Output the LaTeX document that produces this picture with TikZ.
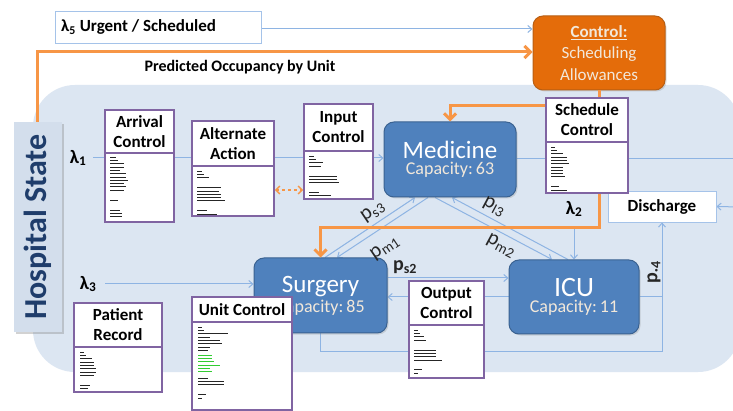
\documentclass[tikz,border=0pt]{standalone}
\usepackage{fontspec}
\setmainfont{Carlito}
\usetikzlibrary{arrows.meta,calc,shadows}
\definecolor{regionc}{HTML}{DCE6F2}
\definecolor{connc}{HTML}{8EB4E3}
\definecolor{orng}{HTML}{F79646}
\definecolor{ctrlfill}{HTML}{E46C0A}
\definecolor{ctrldraw}{HTML}{B85F14}
\definecolor{unitfill}{HTML}{4F81BD}
\definecolor{unitdraw}{HTML}{3A6291}
\definecolor{purp}{HTML}{8064A2}
\definecolor{cream}{HTML}{F2E8DA}
\definecolor{navy}{HTML}{1F3D6B}
\definecolor{hsfill}{HTML}{D3DEEC}
\definecolor{bargreen}{HTML}{33CC33}
\pgfdeclarelayer{bg}
\pgfdeclarelayer{lines}
\pgfsetlayers{bg,lines,main}
\newcommand{\scrib}[4]{%
  \foreach \l [count=\i] in {#4} {\draw[#3, line width=1pt] (#1, #2+\i*3.3) -- ++(\l,0);}}
\begin{document}
\begin{tikzpicture}[x=1pt,y=-1pt,
  conn/.style={draw=connc, line width=1pt},
  arr/.style={-{Straight Barb[length=4pt,width=7pt]}},
  oline/.style={draw=orng, line width=3pt},
  oarr/.style={-{Straight Barb[length=6pt,width=12pt,line width=3pt]}},
  classbox/.style={draw=purp, line width=1.6pt, fill=white, inner sep=0pt},
  ttl/.style={font=\bfseries\fontsize{17}{20}\selectfont, align=center, inner sep=0pt},
  unit/.style={rounded corners=10pt, fill=unitfill, draw=unitdraw, line width=1pt,
    minimum width=132pt, minimum height=75pt, align=center, text=white,
    drop shadow={shadow xshift=1.5pt,shadow yshift=-1.5pt,opacity=0.25}},
  lam/.style={font=\bfseries\fontsize{19}{21}\selectfont, inner sep=1pt},
  plab/.style={font=\fontsize{21}{23}\selectfont, inner sep=0pt, text=black!85},
]
\useasboundingbox (0,0) rectangle (733,411);
\begin{pgfonlayer}{bg}
  \fill[white] (0,0) rectangle (733,411);
  \fill[regionc, rounded corners=42pt] (33,85) rectangle (740,372);
\end{pgfonlayer}

% Hospital state
\node[fill=hsfill, minimum width=48pt, minimum height=210pt, inner sep=0pt,
  drop shadow={shadow xshift=2pt,shadow yshift=-2pt,opacity=0.35}] (hs) at (38,227) {};
\node[rotate=90, text=navy, font=\bfseries\fontsize{32}{34}\selectfont] (hst) at (hs.center) {Hospital State};

% top boxes
\node[draw=connc!80, line width=0.8pt, fill=white, minimum width=206pt, minimum height=32pt, inner sep=0pt] (l5) at (158,27) {};
\node[anchor=west, font=\bfseries\fontsize{17}{19}\selectfont, inner sep=0pt] (l5t) at (61,27) {λ\textsubscript{5} Urgent / Scheduled};
\node[font=\bfseries\fontsize{16}{18}\selectfont] (poc) at (240,67) {Predicted Occupancy by Unit};
\node[rounded corners=10pt, fill=ctrlfill, draw=ctrldraw, line width=1pt, minimum width=132pt,
  minimum height=74pt, align=center, text=cream, font=\fontsize{17}{21.5}\selectfont,
  drop shadow={shadow xshift=1.5pt,shadow yshift=-1.5pt,opacity=0.25}] (ctrl) at (599,53)
  {\textbf{\underline{Control:}}\\Scheduling\\Allowances};

% units
\node[unit] (med) at (450,159.5) {{\fontsize{25}{27}\selectfont Medicine}\\[2pt]{\color{cream}\fontsize{18}{20}\selectfont Capacity:\,63}};
\node[unit, minimum width=133pt] (sur) at (320.5,295.5) {{\fontsize{25}{27}\selectfont Surgery}\\[2pt]{\color{cream}\fontsize{18}{20}\selectfont Capacity:\,85}};
\node[unit, minimum width=130pt, minimum height=74pt] (icu) at (574,297) {{\fontsize{28}{30}\selectfont ICU}\\[2pt]{\color{cream}\fontsize{18}{20}\selectfont Capacity:\,11}};

\node[draw=connc!80, line width=0.8pt, fill=white, minimum width=108pt, minimum height=31pt,
  font=\bfseries\fontsize{17}{19}\selectfont] (dis) at (662,206.5) {Discharge};

% class boxes
\node[classbox, minimum width=69pt, minimum height=112pt] (ac) at (139.5,166) {};
\draw[purp, line width=1.6pt] (ac.west |- 0,153) -- (ac.east |- 0,153);
\node[ttl] (act) at (139.5,131.5) {Arrival\\Control};
\scrib{110}{154}{black!85}{6,8,14,14,10,16,16,18,14,16,14,0,0,8,0,0,10,12,12}

\node[classbox, minimum width=82pt, minimum height=95pt] (aa) at (233,168.5) {};
\draw[purp, line width=1.6pt] (aa.west |- 0,166) -- (aa.east |- 0,166);
\node[ttl] (aat) at (233,143.5) {Alternate\\Action};
\scrib{197}{168}{black!85}{5,7,12,0,0,24,22,24,24,28,0,0,10,20}

\node[classbox, minimum width=69pt, minimum height=95pt] (ic) at (338.5,151.5) {};
\draw[purp, line width=1.6pt] (ic.west |- 0,151) -- (ic.east |- 0,151);
\node[ttl] (ict) at (338.5,127.5) {Input\\Control};
\scrib{309}{153}{black!85}{5,7,14,12,0,0,28,28,30,0,0,10,22}

\node[classbox, minimum width=82pt, minimum height=95pt] (sc) at (587,145.5) {};
\draw[purp, line width=1.6pt] (sc.west |- 0,142) -- (sc.east |- 0,142);
\node[ttl] (sct) at (587,120) {Schedule\\Control};
\scrib{551}{144}{black!85}{4,6,12,16,16,18,12,12,12,14,0,0,8,16}

\node[classbox, minimum width=88pt, minimum height=89pt] (pr) at (118,347.5) {};
\draw[purp, line width=1.6pt] (pr.west |- 0,347) -- (pr.east |- 0,347);
\node[ttl] (prt) at (118,325) {Patient\\Record};
\scrib{80}{349}{black!85}{4,6,12,14,14,16,16,14,0,0,10,8}

\node[classbox, minimum width=100pt, minimum height=113pt] (uc) at (242,353.5) {};
\draw[purp, line width=1.6pt] (uc.west |- 0,322) -- (uc.east |- 0,322);
\node[ttl, font=\bfseries\fontsize{17}{20}\selectfont] (uct) at (242,309.5) {Unit Control};
\scrib{198}{324}{black!85}{4,6,30,12,22,24,12,10}
\scrib{198}{352}{bargreen}{14,14,16,22,12,14}
\scrib{198}{375}{black!85}{10,26,26,0,0,8,4}

\node[classbox, minimum width=75pt, minimum height=97pt] (oc) at (446.5,329.5) {};
\draw[purp, line width=1.6pt] (oc.west |- 0,325) -- (oc.east |- 0,325);
\node[ttl] (oct) at (446.5,303) {Output\\Control};
\scrib{414}{327}{black!85}{4,6,10,12,0,0,22,22,22,28,0,0,8,4}

% labels
\node[lam] (l1) at (78,158) {λ\textsubscript{1}};
\node[lam] (l2) at (574,209) {λ\textsubscript{2}};
\node[lam] (l3) at (88,284) {λ\textsubscript{3}};
\node[plab, rotate=34] (ps3) at (373,212) {p\textsubscript{s3}};
\node[plab, rotate=34] (pm1) at (385,248) {p\textsubscript{m1}};
\node[plab, rotate=-28] (pi3) at (494,207) {p\textsubscript{I3}};
\node[plab, rotate=-28] (pm2) at (501,246) {p\textsubscript{m2}};
\node[plab, font=\bfseries\fontsize{20}{22}\selectfont] (ps2) at (405,267) {p\textsubscript{s2}};
\node[plab, rotate=90, font=\bfseries\fontsize{20}{22}\selectfont] (p4) at (654,272) {p\textsubscript{·4}};

\coordinate (rA) at (740,159);
\coordinate (rB) at (740,207);
\coordinate (bl) at (662,351);

\begin{pgfonlayer}{lines}
  \draw[conn, arr, shorten <=6pt] (l1.east) -- (l1.east -| med.west);
  \draw[conn] (med.east |- rA) -- (rA);
  \draw[conn, arr] (rB) -- (dis.east);
  \draw[conn, arr, shorten <=8pt] (l2.south) -- (icu.north);
  \draw[conn] (icu.east) -- (icu.east -| bl);
  \draw[conn, arr] (sur.south) |- (bl) -- (dis.south);
  \draw[conn, arr] ($(sur.north)+(4.5,0)$) -- ($(med.south)+(-35,0)$);
  \draw[conn, arr] ($(med.south)+(-22,0)$) -- ($(sur.north)+(16.5,0)$);
  \draw[conn, arr] ($(icu.north)+(-6,0)$) -- ($(med.south)+(2,0)$);
  \draw[conn, arr] ($(med.south)+(-15,0)$) -- ($(icu.north)+(-22,0)$);
  \draw[conn, arr] (sur.east |- 0,278) -- (icu.west |- 0,278);
  \draw[conn, arr] (icu.west |- 0,297) -- (sur.east |- 0,297);
  \draw[conn, arr, shorten <=8pt] (l3.east) -- (l3.east -| sur.west);
  \draw[conn, arr] (l5.east |- 0,29) -- (ctrl.west |- 0,29);
\end{pgfonlayer}

% orange
\draw[oline, oarr] (hs.north -| 37,0) |- (ctrl.west |- 0,52);
\draw[oline] (ctrl.south) -- (ctrl.south |- sc.north);
\draw[oline, oarr] (sc.west |- 0,106) -| (med.north);
\draw[oline, oarr] (ctrl.south |- sc.south) |- (sur.north |- 0,228) -- (sur.north);
\draw[orng, line width=1.4pt, dashed, {Straight Barb[length=4pt,width=8pt]}-{Straight Barb[length=4pt,width=8pt]}] (aa.east |- 0,190) -- (ic.west |- 0,190);
\end{tikzpicture}
\end{document}
